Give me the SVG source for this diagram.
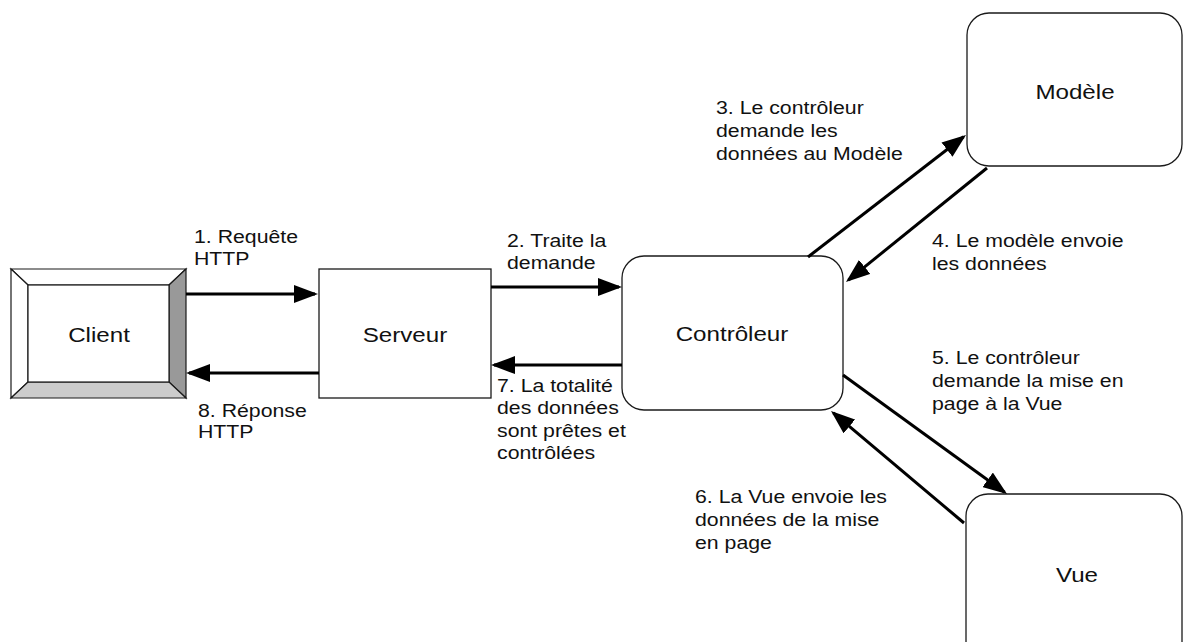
<svg xmlns="http://www.w3.org/2000/svg" width="1186" height="642" viewBox="0 0 1186 642">
  <style>
    .box { fill: #ffffff; stroke: #1a1a1a; stroke-width: 1.3; }
    .bevel { stroke: #1a1a1a; stroke-width: 1.2; stroke-linejoin: miter; }
    .edge { stroke: #000000; stroke-width: 3; fill: none; marker-end: url(#head); }
    .name { font-family: "Liberation Sans", Arial, sans-serif; font-size: 21px; fill: #111111; text-anchor: middle; }
    .lbl { font-family: "Liberation Sans", Arial, sans-serif; font-size: 18.5px; fill: #111111; }
  </style>
  <defs>
    <marker id="head" viewBox="0 0 8 6" refX="7" refY="3" markerWidth="8" markerHeight="6" orient="auto" markerUnits="strokeWidth">
      <path d="M0,0 L8,3 L0,6 z" fill="#000000"/>
    </marker>
  </defs>

  <rect width="1186" height="642" fill="#ffffff"/>

  <!-- Client: bevelled button shape -->
  <g id="client">
    <polygon class="bevel" fill="#ffffff" points="11,269 186,269 169,285 28,285"/>
    <polygon class="bevel" fill="#ffffff" points="11,269 28,285 28,382 11,398"/>
    <polygon class="bevel" fill="#999999" points="186,269 186,398 169,382 169,285"/>
    <polygon class="bevel" fill="#cccccc" points="11,398 28,382 169,382 186,398"/>
    <rect class="bevel" fill="#ffffff" x="28" y="285" width="141" height="97"/>
    <text class="name" transform="matrix(1.15 0 0 1 99 342)">Client</text>
  </g>

  <!-- Serveur -->
  <g id="serveur">
    <rect class="box" x="319" y="269" width="172" height="129"/>
    <text class="name" transform="matrix(1.15 0 0 1 405 342)">Serveur</text>
  </g>

  <!-- Contrôleur -->
  <g id="controleur">
    <rect class="box" x="622" y="256" width="221" height="154" rx="22" ry="22"/>
    <text class="name" transform="matrix(1.15 0 0 1 732 341)">Contrôleur</text>
  </g>

  <!-- Modèle -->
  <g id="modele">
    <rect class="box" x="967" y="13" width="215" height="153" rx="22" ry="22"/>
    <text class="name" transform="matrix(1.15 0 0 1 1075 99)">Modèle</text>
  </g>

  <!-- Vue (runs past the lower edge) -->
  <g id="vue">
    <rect class="box" x="966" y="494" width="216" height="170" rx="22" ry="22"/>
    <text class="name" transform="matrix(1.15 0 0 1 1077 582)">Vue</text>
  </g>

  <!-- Connectors -->
  <g id="connectors">
    <line class="edge" x1="186" y1="294" x2="315" y2="294"/>
    <line class="edge" x1="319" y1="373" x2="189" y2="373"/>
    <line class="edge" x1="491" y1="287" x2="619" y2="287"/>
    <line class="edge" x1="622" y1="365" x2="494" y2="365"/>
    <line class="edge" x1="808" y1="257" x2="963.6" y2="136.8"/>
    <line class="edge" x1="987" y1="168" x2="848.3" y2="280.1"/>
    <line class="edge" x1="843" y1="375" x2="1004.6" y2="492.2"/>
    <line class="edge" x1="964" y1="523" x2="833.3" y2="412.9"/>
  </g>

  <!-- Connector labels -->
  <g id="labels">
    <text class="lbl" transform="matrix(1.15 0 0 1 194 243)"><tspan x="0" y="0">1. Requête</tspan><tspan x="0" y="22">HTTP</tspan></text>
    <text class="lbl" transform="matrix(1.15 0 0 1 507 247)"><tspan x="0" y="0">2. Traite la</tspan><tspan x="0" y="22">demande</tspan></text>
    <text class="lbl" transform="matrix(1.15 0 0 1 716 114)"><tspan x="0" y="0">3. Le contrôleur</tspan><tspan x="0" y="23">demande les</tspan><tspan x="0" y="46">données au Modèle</tspan></text>
    <text class="lbl" transform="matrix(1.15 0 0 1 932 247)"><tspan x="0" y="0">4. Le modèle envoie</tspan><tspan x="0" y="23">les données</tspan></text>
    <text class="lbl" transform="matrix(1.15 0 0 1 932 364)"><tspan x="0" y="0">5. Le contrôleur</tspan><tspan x="0" y="23">demande la mise en</tspan><tspan x="0" y="46">page à la Vue</tspan></text>
    <text class="lbl" transform="matrix(1.15 0 0 1 695 503)"><tspan x="0" y="0">6. La Vue envoie les</tspan><tspan x="0" y="23">données de la mise</tspan><tspan x="0" y="46">en page</tspan></text>
    <text class="lbl" transform="matrix(1.15 0 0 1 497 392)"><tspan x="0" y="0">7. La totalité</tspan><tspan x="0" y="22.5">des données</tspan><tspan x="0" y="45">sont prêtes et</tspan><tspan x="0" y="67.5">contrôlées</tspan></text>
    <text class="lbl" transform="matrix(1.15 0 0 1 198 417)"><tspan x="0" y="0">8. Réponse</tspan><tspan x="0" y="21">HTTP</tspan></text>
  </g>
</svg>
